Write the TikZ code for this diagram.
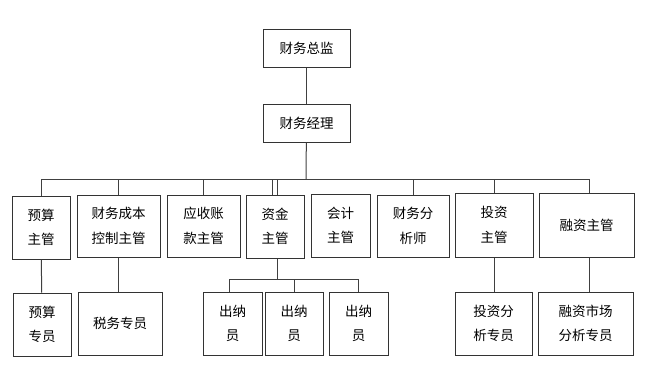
\documentclass[tikz,border=0pt]{standalone}
\usepackage{fontspec}
\newfontfamily\cjk{Noto Sans CJK SC}
\usetikzlibrary{positioning}

\begin{document}
\begin{tikzpicture}[
    x=1pt, y=-1pt,
    box/.style={rectangle, draw=black!80, line width=1pt, inner sep=0pt, align=center, font=\cjk\fontsize{13.5}{24.5}\selectfont},
    top/.style={box, minimum width=87pt, minimum height=38pt},
    line/.style={draw=black!75, line width=1pt}
]
\useasboundingbox (0,0) rectangle (645,367);

% Leitung
\node[top] (cfo) at (306.5,48) {财务总监};
\node[top] (mgr) at (306.5,123) {财务经理};

% Erste Ebene
\node[box, minimum width=58pt, minimum height=63pt] (ys) at (41,227.5) {预算\\主管};
\node[box, minimum width=83pt, minimum height=62pt] (cb) at (118.5,226) {财务成本\\控制主管};
\node[box, minimum width=73pt, minimum height=62pt] (yszk) at (203.5,226) {应收账\\款主管};
\node[box, minimum width=58pt, minimum height=63pt] (zj) at (275,226.5) {资金\\主管};
\node[box, minimum width=59pt, minimum height=63pt] (kj) at (340.5,225.5) {会计\\主管};
\node[box, minimum width=72pt, minimum height=62pt] (fx) at (413,226) {财务分\\析师};
\node[box, minimum width=78pt, minimum height=64pt] (tz) at (494,225) {投资\\主管};
\node[box, minimum width=95pt, minimum height=64pt] (rz) at (586.5,225) {融资主管};

% Zweite Ebene
\node[box, minimum width=58pt, minimum height=63pt] (yszy) at (42,324.5) {预算\\专员};
\node[box, minimum width=84pt, minimum height=63pt] (sw) at (120,323.5) {税务专员};
\node[box, minimum width=59pt, minimum height=63pt] (cn1) at (232.5,323.5) {出纳\\员};
\node[box, minimum width=58pt, minimum height=63pt] (cn2) at (294,323.5) {出纳\\员};
\node[box, minimum width=59pt, minimum height=63pt] (cn3) at (358.5,323.5) {出纳\\员};
\node[box, minimum width=77pt, minimum height=63pt] (tzfx) at (493.5,323.5) {投资分\\析专员};
\node[box, minimum width=95pt, minimum height=63pt] (rzsc) at (585.5,323.5) {融资市场\\分析专员};

% Sammelschienen
\coordinate (bus) at (306,179);
\coordinate (cbus) at (277,279);

% Verbindungen
\draw[line] (cfo) -- (mgr);
\draw[line] (mgr) -- (bus);
\foreach \n in {ys,cb,yszk,fx,tz}
    \draw[line] (\n.north) |- (bus);
\draw[line] ([xshift=2.5pt]rz.north) |- (bus);
\draw[line] ([xshift=-3pt]zj.north) |- (bus);
\draw[line] ([xshift=2pt]zj.north) |- (bus);

\draw[line] (ys) -- (yszy);
\draw[line] (cb.south) -- (cb.south |- sw.north);
\draw[line] (tz.south) -- (tz.south |- tzfx.north);
\draw[line] ([xshift=2.5pt]rz.south) -- ([xshift=2.5pt]rz.south |- rzsc.north);

\draw[line] ([xshift=2pt]zj.south) -- (cbus);
\draw[line] ([xshift=-3.5pt]cn1.north) |- (cbus);
\draw[line] (cn2.north) |- (cbus);
\draw[line] (cn3.north) |- (cbus);

\end{tikzpicture}
\end{document}
